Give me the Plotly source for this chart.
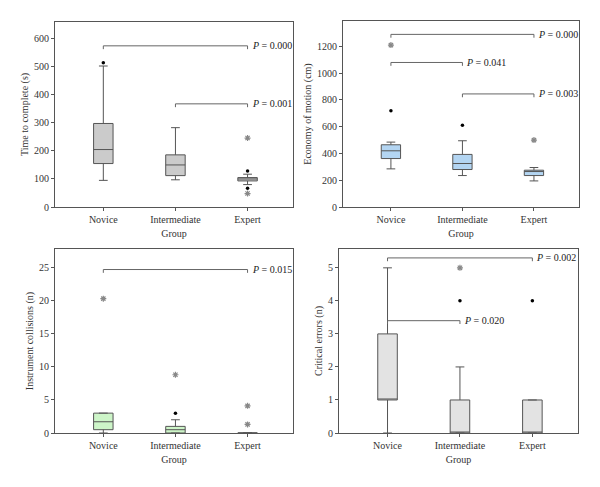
import plotly.graph_objects as go

GROUPS = ["Novice", "Intermediate", "Expert"]

# panel 1: time to complete (s)
TIME_LOW = [95, 97, 80]
TIME_Q1 = [155, 112, 93]
TIME_MED = [205, 150, 100]
TIME_Q3 = [298, 186, 105]
TIME_HIGH = [503, 283, 117]
TIME_DOTS = [(0, 515), (2, 128), (2, 67)]
TIME_STARS = [(2, 246), (2, 48)]
TIME_P = [(0, 2, 575, "0.000"), (1, 2, 368, "0.001")]

# panel 2: economy of motion (cm)
ECON_LOW = [285, 235, 195]
ECON_Q1 = [362, 280, 235]
ECON_MED = [420, 325, 265]
ECON_Q3 = [465, 393, 275]
ECON_HIGH = [485, 495, 295]
ECON_DOTS = [(0, 720), (1, 610)]
ECON_STARS = [(0, 1210), (2, 500)]
ECON_P = [(0, 2, 1290, "0.000"), (0, 1, 1080, "0.041"), (1, 2, 845, "0.003")]

# panel 3: instrument collisions (n)
COLL_LOW = [0, 0, 0]
COLL_Q1 = [0.5, 0, 0]
COLL_MED = [1.7, 0.5, 0]
COLL_Q3 = [3, 1, 0]
COLL_HIGH = [3, 2, 0]
COLL_DOTS = [(1, 3)]
COLL_STARS = [(0, 20.3), (1, 8.8), (2, 4.1), (2, 1.3)]
COLL_P = [(0, 2, 24.7, "0.015")]

# panel 4: critical errors (n)
ERR_LOW = [0, 0, 0]
ERR_Q1 = [1, 0, 0]
ERR_MED = [1, 0, 0]
ERR_Q3 = [3, 1, 1]
ERR_HIGH = [5, 2, 1]
ERR_DOTS = [(1, 4), (2, 4)]
ERR_STARS = [(1, 5)]
ERR_P = [(0, 2, 5.3, "0.002"), (0, 1, 3.4, "0.020")]

PANELS = [
    dict(low=TIME_LOW, q1=TIME_Q1, med=TIME_MED, q3=TIME_Q3, high=TIME_HIGH,
         dots=TIME_DOTS, stars=TIME_STARS, pvals=TIME_P, ymax=660, dtick=100,
         title="Time to complete (s)", fill="#cbcbcb",
         dom=([55, 293], [22, 207])),
    dict(low=ECON_LOW, q1=ECON_Q1, med=ECON_MED, q3=ECON_Q3, high=ECON_HIGH,
         dots=ECON_DOTS, stars=ECON_STARS, pvals=ECON_P, ymax=1390, dtick=200,
         title="Economy of motion (cm)", fill="#b3d5f2",
         dom=([343, 579], [21, 207])),
    dict(low=COLL_LOW, q1=COLL_Q1, med=COLL_MED, q3=COLL_Q3, high=COLL_HIGH,
         dots=COLL_DOTS, stars=COLL_STARS, pvals=COLL_P, ymax=27.8, dtick=5,
         title="Instrument collisions (n)", fill="#cdf5c8",
         dom=([55, 293], [249, 433])),
    dict(low=ERR_LOW, q1=ERR_Q1, med=ERR_MED, q3=ERR_Q3, high=ERR_HIGH,
         dots=ERR_DOTS, stars=ERR_STARS, pvals=ERR_P, ymax=5.57, dtick=1,
         title="Critical errors (n)", fill="#e3e3e3",
         dom=([339, 578], [249, 433])),
]

# the page body has an 8px default margin, so the figure is drawn 8px in
OFF = 8
W, H = 600 - OFF, 487 - OFF
FONT = dict(family="Liberation Serif", size=10, color="#333333")
EDGE = "#555555"

fig = go.Figure()
for i, p in enumerate(PANELS, start=1):
    xa, ya = f"x{i}", f"y{i}"
    xs = list(range(len(GROUPS)))
    fig.add_trace(go.Box(
        x=xs, q1=p["q1"], median=p["med"], q3=p["q3"],
        lowerfence=p["low"], upperfence=p["high"],
        width=0.27, whiskerwidth=0.45, boxpoints=False,
        fillcolor=p["fill"], line=dict(color=EDGE, width=1),
        xaxis=xa, yaxis=ya, showlegend=False, hoverinfo="skip"))
    fig.add_trace(go.Scatter(
        x=[d[0] for d in p["dots"]], y=[d[1] for d in p["dots"]],
        mode="markers", marker=dict(color="black", size=3.5),
        xaxis=xa, yaxis=ya, showlegend=False))
    fig.add_trace(go.Scatter(
        x=[s[0] for s in p["stars"]], y=[s[1] for s in p["stars"]],
        mode="markers",
        marker=dict(symbol="asterisk-open", size=5, color="#888888",
                    line=dict(color="#888888", width=1.2)),
        xaxis=xa, yaxis=ya, showlegend=False))
    tick = p["ymax"] * 0.018
    for a, b, yv, txt in p["pvals"]:
        fig.add_trace(go.Scatter(
            x=[a, a, b, b], y=[yv - tick, yv, yv, yv - tick],
            mode="lines", line=dict(color="#666666", width=1),
            xaxis=xa, yaxis=ya, showlegend=False, hoverinfo="skip"))
        fig.add_annotation(x=b, y=yv, xref=xa, yref=ya, text=f"<i>P</i> = {txt}",
                           showarrow=False, xanchor="left", yanchor="middle",
                           xshift=2, font=dict(FONT, size=10, color="#222222"))
    (x0, x1), (y0, y1) = p["dom"]
    sfx = "" if i == 1 else str(i)
    fig.layout[f"xaxis{sfx}"] = dict(
        domain=[(x0 - OFF) / W, (x1 - OFF) / W], anchor=ya, range=[-0.67, 2.63],
        tickvals=xs, ticktext=GROUPS, ticks="outside", ticklen=3,
        tickcolor=EDGE, showline=True, linecolor=EDGE, linewidth=1,
        mirror=True, showgrid=False, zeroline=False, automargin=False,
        title=dict(text="Group", font=FONT, standoff=5), tickfont=FONT)
    fig.layout[f"yaxis{sfx}"] = dict(
        domain=[1 - (y1 - OFF) / H, 1 - (y0 - OFF) / H], anchor=xa,
        range=[0, p["ymax"]], dtick=p["dtick"], ticks="outside", ticklen=3,
        tickcolor=EDGE, showline=True, linecolor=EDGE, linewidth=1,
        mirror=True, showgrid=False, zeroline=False, automargin=False,
        title=dict(text=p["title"], font=FONT, standoff=3), tickfont=FONT)

fig.update_layout(
    width=W, height=H, margin=dict(l=0, r=0, t=0, b=0),
    plot_bgcolor="white", paper_bgcolor="white", font=FONT,
)
fig.write_html("out.html")
